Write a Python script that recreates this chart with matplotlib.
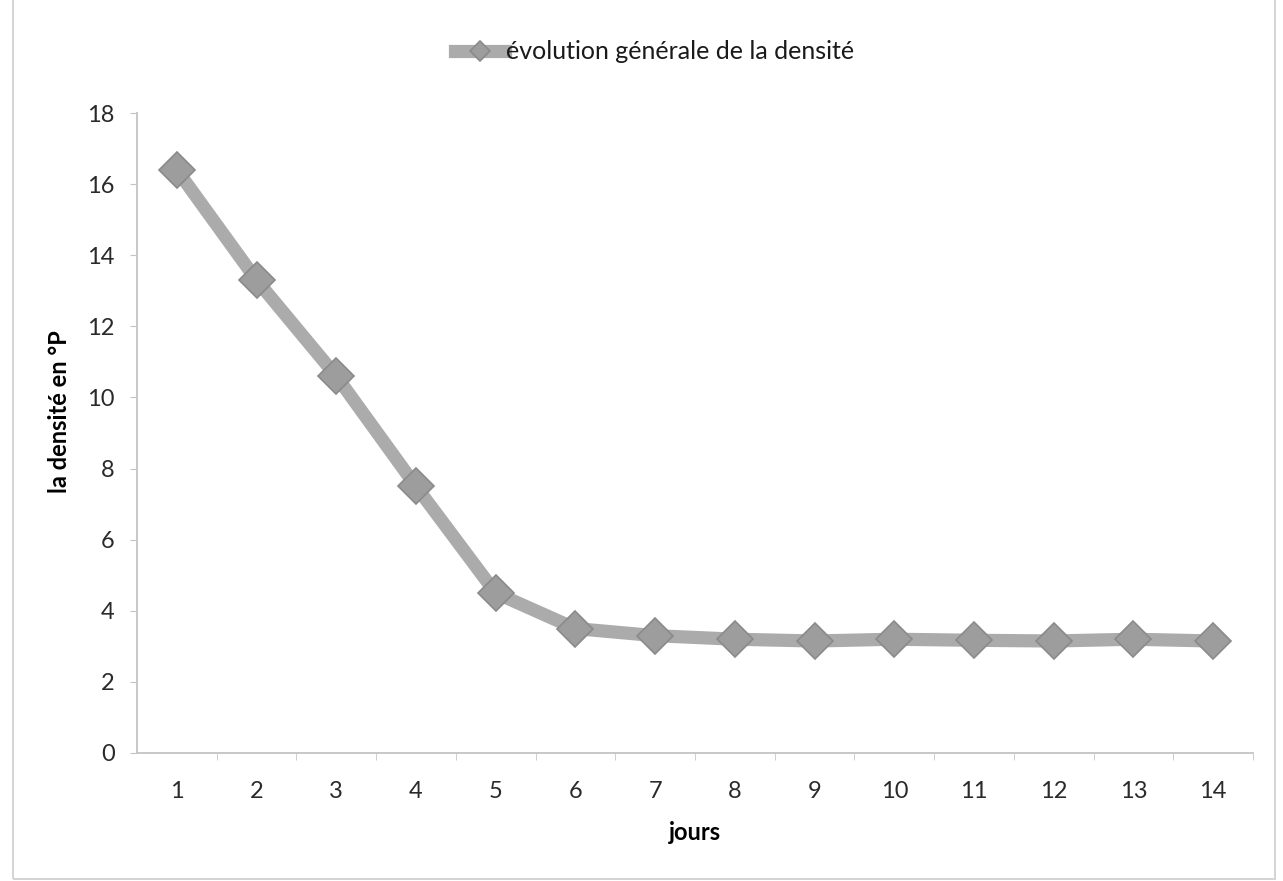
import matplotlib.pyplot as plt
from matplotlib.patches import Rectangle

# Daily density readings
jours = [1, 2, 3, 4, 5, 6, 7, 8, 9, 10, 11, 12, 13, 14]
densite = [16.4, 13.3, 10.6, 7.5, 4.5, 3.5, 3.3, 3.2, 3.15, 3.2, 3.17, 3.15, 3.2, 3.15]
y_ticks = [0, 2, 4, 6, 8, 10, 12, 14, 16, 18]

plt.rcParams['font.family'] = ['Lato', 'DejaVu Sans']

fig = plt.figure(figsize=(12.83, 8.81), dpi=100)
ax = fig.add_axes([0.1068, 0.1453, 0.8698, 0.7264])

# Chart frame (top edge kept just outside the figure)
fig.patches.append(Rectangle((0.0101, 0.0025), 0.9837, 1.1, transform=fig.transFigure,
                             fill=False, edgecolor='#d4d4d4', linewidth=1.4))

line, = ax.plot(jours, densite, color='#ababab', linewidth=9.5,
                marker='D', markersize=18, markerfacecolor='#9d9d9d',
                markeredgecolor='#8a8a8a', markeredgewidth=1.2,
                solid_joinstyle='round', label='évolution générale de la densité')

ax.set_xlim(0.5, 14.5)
ax.set_ylim(0, 18)
ax.set_yticks(y_ticks)
ax.set_xticks(jours)
ax.set_xticks([j + 0.5 for j in jours], minor=True)

for side in ['top', 'right']:
    ax.spines[side].set_visible(False)
for side in ['left', 'bottom']:
    ax.spines[side].set_color('#c4c4c4')
    ax.spines[side].set_linewidth(1.3)

ax.tick_params(axis='y', direction='out', length=5, color='#c4c4c4',
               labelsize=17, labelcolor='#2a2a2a', pad=11)
ax.tick_params(axis='x', which='major', length=0, labelsize=17,
               labelcolor='#2a2a2a', pad=20)
ax.tick_params(axis='x', which='minor', direction='out', length=5,
               color='#c4c4c4')

ax.set_xlabel('jours', fontsize=17, fontweight='bold', labelpad=14)
ax.set_ylabel('la densité en °P', fontsize=17, fontweight='bold', labelpad=12,
              y=0.533)

fig.legend(handles=[line], loc='center', bbox_to_anchor=(0.51, 0.941),
           frameon=False, fontsize=18, handlelength=2.0, handletextpad=0.05,
           markerscale=0.55, labelcolor='#1a1a1a')

fig.savefig('out.png', dpi=100, facecolor='white')
